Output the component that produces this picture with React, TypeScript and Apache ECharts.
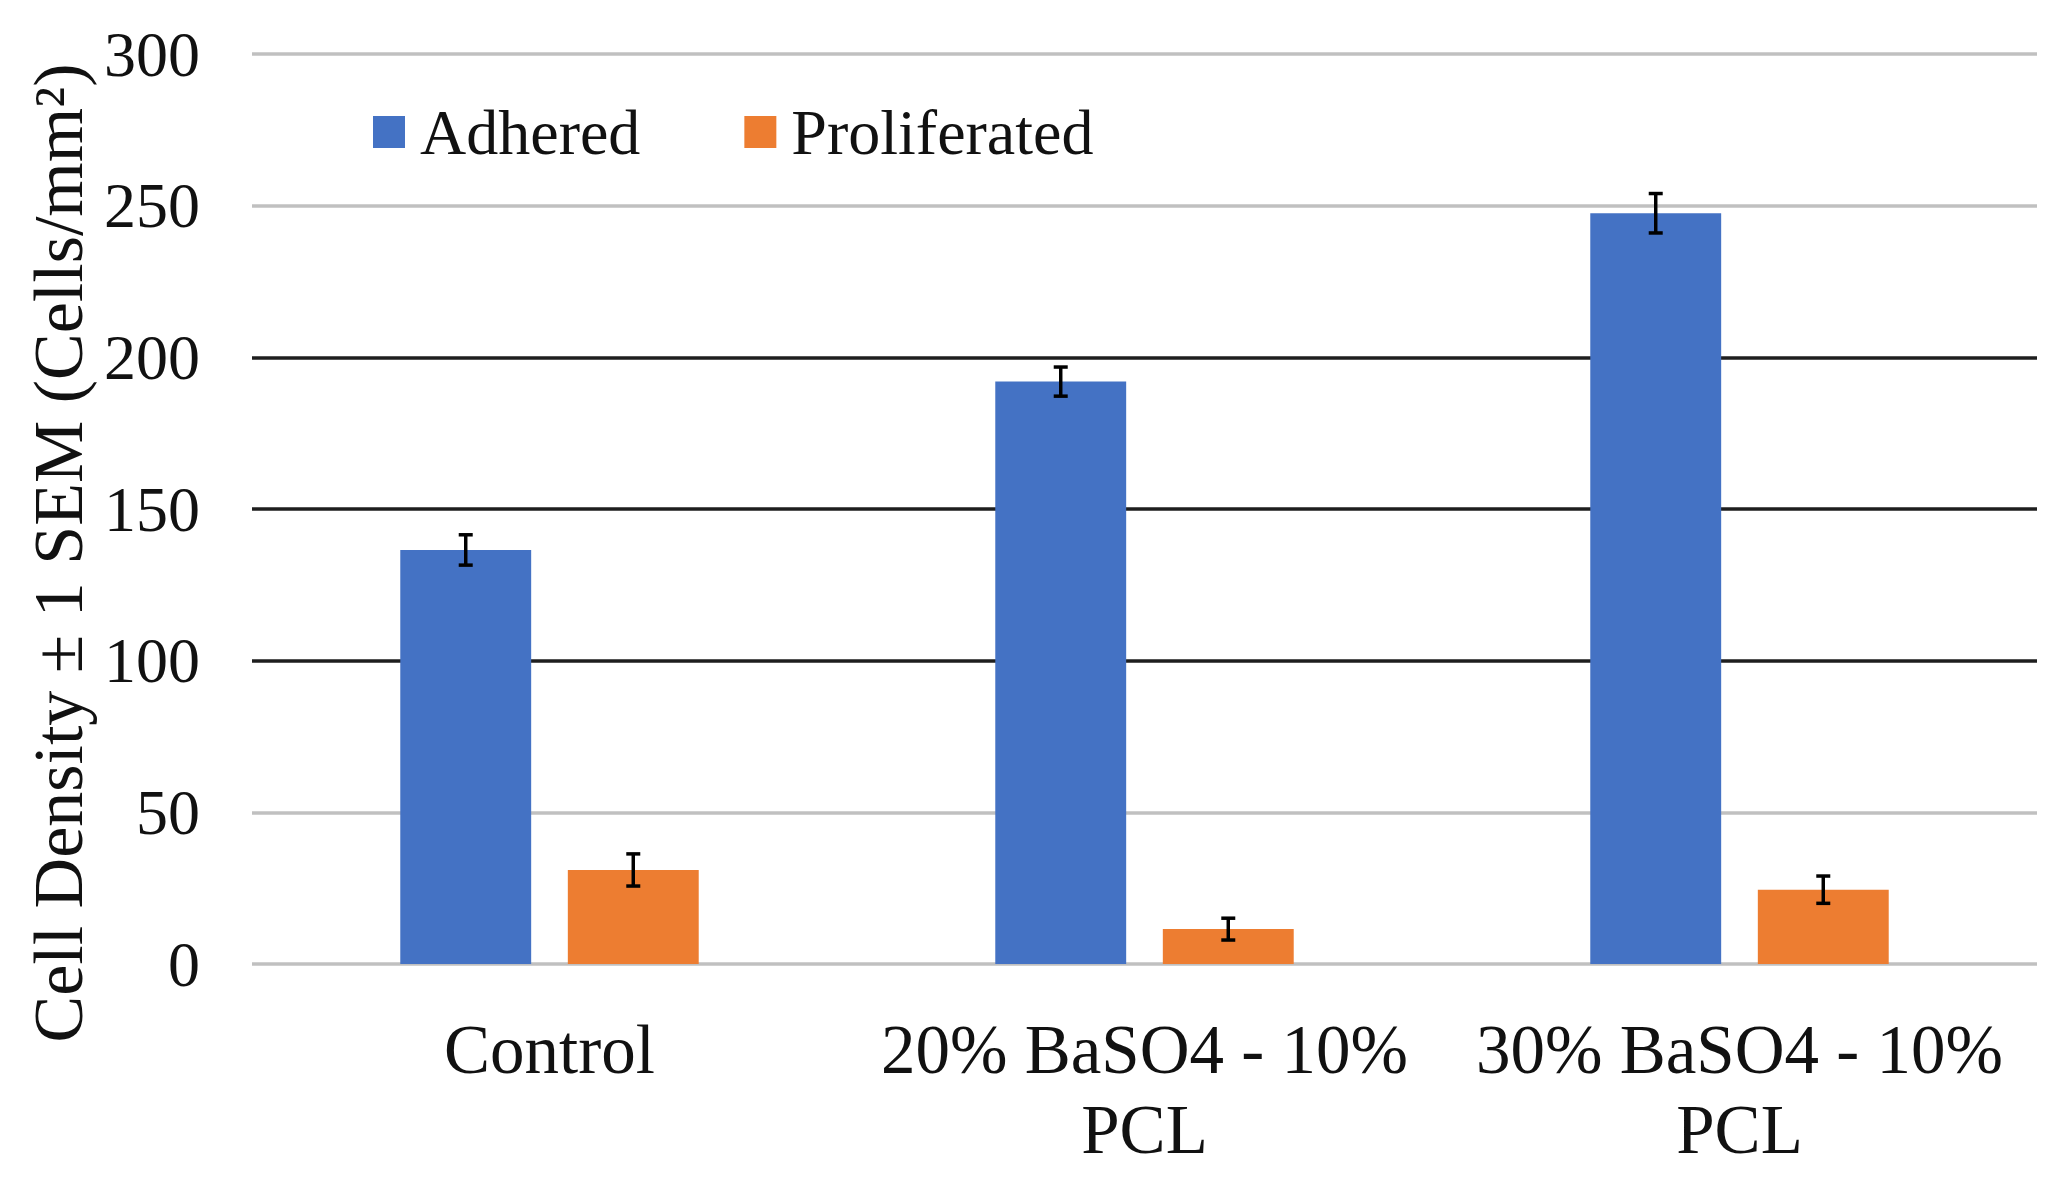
import React, { useEffect, useRef } from "react";
import * as echarts from "echarts";

const categories = ["Control", "20% BaSO4 - 10%\nPCL", "30% BaSO4 - 10%\nPCL"];
const seriesNames = ["Adhered", "Proliferated"];
const adhered = [136.5, 192, 247.5];
const adheredErr = [5, 4.8, 6.5];
const proliferated = [31, 11.5, 24.5];
const proliferatedErr = [5.3, 3.6, 4.5];
const yTicks = { min: 0, max: 300, interval: 50 };
const yTitle = "Cell Density \u00B1 1 SEM (Cells/mm\u00B2)";

const FONT = "'Liberation Serif', 'Times New Roman', serif";
const BLUE = "#4472C4";
const ORANGE = "#ED7D31";
const BAR_W = 0.22;
const BAR_GAP = 0.28;

function errorSeries(values: number[], errs: number[], side: number) {
  return {
    type: "custom",
    z: 10,
    silent: true,
    data: values.map((v, i) => [i, v, errs[i]]),
    renderItem: (params: any, api: any) => {
      const ci = api.value(0);
      const v = api.value(1);
      const e = api.value(2);
      const band = api.size([1, 0])[0];
      const bw = band * BAR_W;
      const off = side * ((bw + bw * BAR_GAP) / 2);
      const hi = api.coord([ci, v + e]);
      const lo = api.coord([ci, v - e]);
      const x = hi[0] + off;
      const cap = 7;
      const style = { stroke: "#000", lineWidth: 3.5 };
      return {
        type: "group",
        children: [
          { type: "line", shape: { x1: x, y1: hi[1], x2: x, y2: lo[1] }, style },
          { type: "line", shape: { x1: x - cap, y1: hi[1], x2: x + cap, y2: hi[1] }, style },
          { type: "line", shape: { x1: x - cap, y1: lo[1], x2: x + cap, y2: lo[1] }, style },
        ],
      };
    },
  };
}

export default function App() {
  const ref = useRef<HTMLDivElement>(null);
  useEffect(() => {
    if (!ref.current) return;
    const chart = echarts.init(ref.current, undefined, { renderer: "svg" });
    const gray = "#c0c0c0";
    const dark = "#1e1e1e";
    chart.setOption({
      animation: false,
      backgroundColor: "#ffffff",
      textStyle: { fontFamily: FONT },
      grid: { left: 252, right: 32, top: 54, bottom: 219, containLabel: false },
      legend: {
        data: seriesNames,
        left: 368,
        top: 95,
        icon: "rect",
        itemWidth: 32,
        itemHeight: 32,
        itemGap: 104,
        textStyle: { fontFamily: FONT, fontSize: 64, color: "#111", padding: [0, 0, 0, 10] },
      },
      xAxis: {
        type: "category",
        data: categories,
        axisLine: { show: false },
        axisTick: { show: false },
        axisLabel: {
          fontFamily: FONT,
          fontSize: 69,
          color: "#111",
          lineHeight: 80,
          margin: 46,
          interval: 0,
        },
      },
      yAxis: {
        type: "value",
        min: yTicks.min,
        max: yTicks.max,
        interval: yTicks.interval,
        axisLine: { show: false },
        axisTick: { show: false },
        axisLabel: { fontFamily: FONT, fontSize: 64, color: "#111", margin: 52 },
        splitLine: {
          show: true,
          lineStyle: {
            color: [gray, gray, dark, dark, dark, gray, gray],
            width: 3.5,
          },
        },
      },
      graphic: [
        {
          type: "text",
          x: 58,
          y: 553,
          rotation: Math.PI / 2,
          style: {
            text: yTitle,
            fontFamily: FONT,
            fontSize: 70,
            fill: "#111",
            textAlign: "center",
            textVerticalAlign: "middle",
          },
        },
      ],
      series: [
        {
          name: seriesNames[0],
          type: "bar",
          data: adhered,
          barWidth: BAR_W * 100 + "%",
          barGap: BAR_GAP * 100 + "%",
          itemStyle: { color: BLUE },
        },
        {
          name: seriesNames[1],
          type: "bar",
          data: proliferated,
          barWidth: BAR_W * 100 + "%",
          barGap: BAR_GAP * 100 + "%",
          itemStyle: { color: ORANGE },
        },
        errorSeries(adhered, adheredErr, -1),
        errorSeries(proliferated, proliferatedErr, 1),
      ],
    });
    return () => chart.dispose();
  }, []);
  return (
    <div
      ref={ref}
      style={{ position: "fixed", left: 0, top: 0, width: "2069px", height: "1183px", background: "#fff" }}
    />
  );
}
